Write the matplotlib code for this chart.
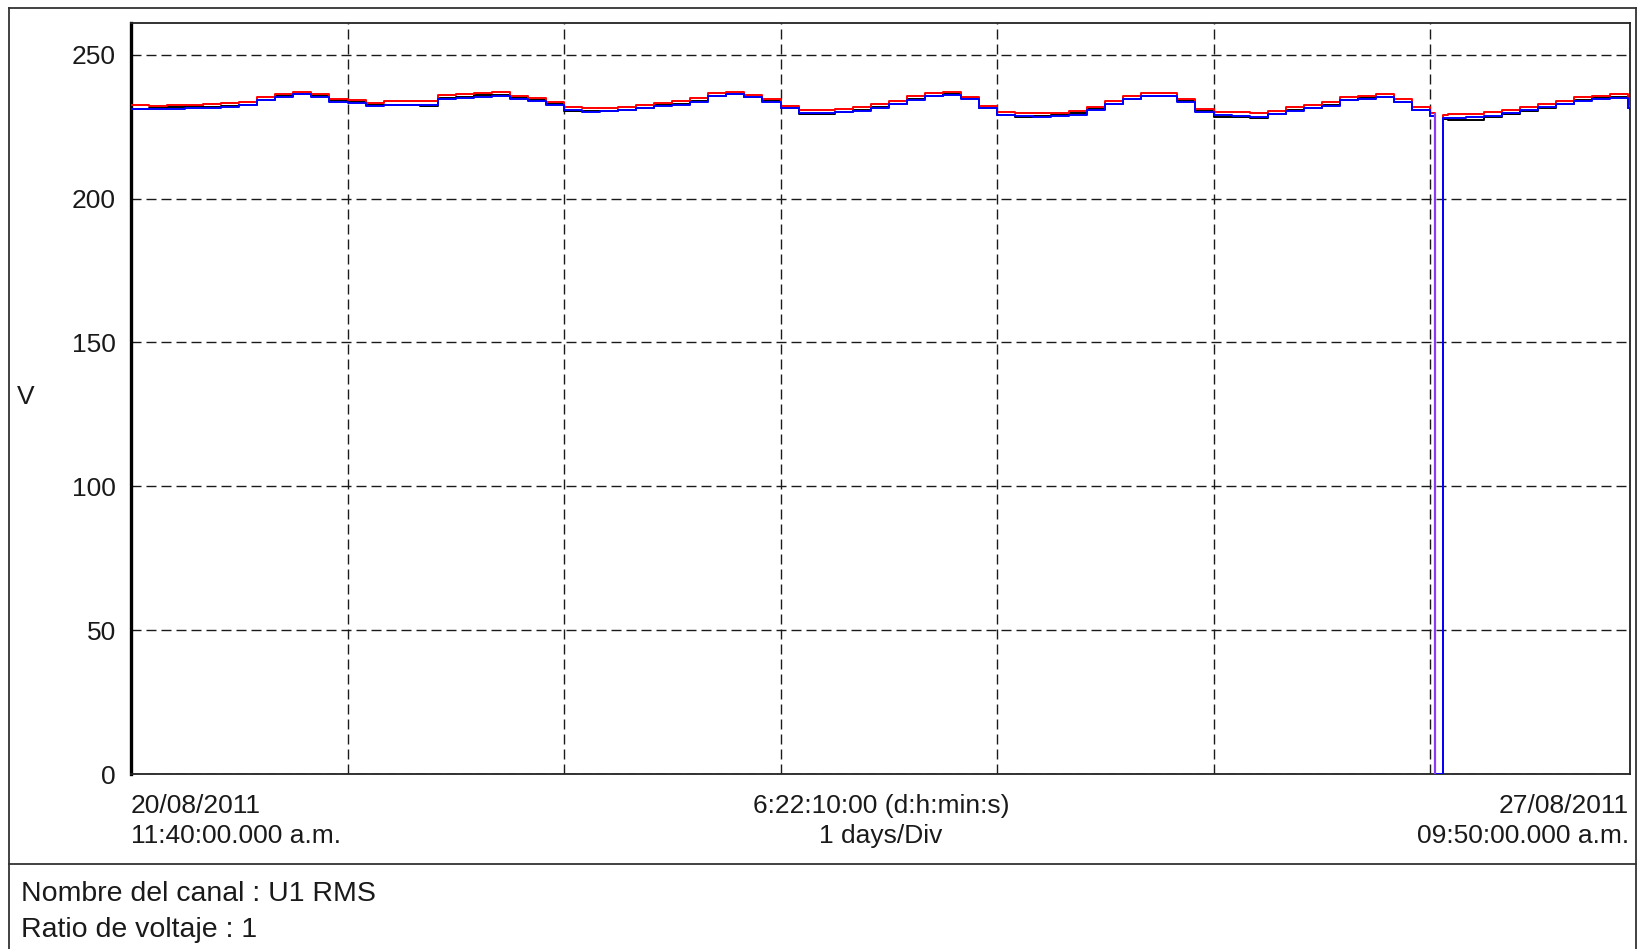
"""U1 RMS voltage trend, one week of logger data (max / avg / min per interval)."""

import matplotlib

matplotlib.use("Agg")
import matplotlib.pyplot as plt
from matplotlib.lines import Line2D

plt.rcParams["font.family"] = ["Liberation Sans", "DejaVu Sans"]

INK = "#1a1a1a"
FRAME = "#333333"

# hours since 20/08/2011 11:40:00, logger record points
T_HOURS = [
    0, 2, 4, 6, 8, 10, 12, 14, 16, 18, 20, 22,
    24, 26, 28, 30, 32, 34, 36, 38, 40, 42, 44, 46,
    48, 50, 52, 54, 56, 58, 60, 62, 64, 66, 68, 70,
    72, 74, 76, 78, 80, 82, 84, 86, 88, 90, 92, 94,
    96, 98, 100, 102, 104, 106, 108, 110, 112, 114, 116, 118,
    120, 122, 124, 126, 128, 130, 132, 134, 136, 138, 140, 142,
    144, 144.6, 145.4, 146, 148, 150, 152, 154, 156, 158, 160, 162,
    164, 166, 166.17,
]

# interval maximum (V)
U_MAX = [
    232.5, 232.0, 232.4, 232.6, 232.7, 233.1, 233.7, 235.4, 236.3, 237.1, 236.3, 234.6,
    234.3, 233.1, 233.8, 233.8, 233.8, 235.9, 236.3, 236.6, 236.9, 235.7, 234.9, 233.4,
    231.7, 231.5, 231.5, 231.7, 232.6, 233.1, 233.8, 234.9, 236.6, 237.1, 236.1, 234.6,
    232.3, 230.8, 230.8, 231.1, 231.7, 232.9, 234.0, 235.7, 236.6, 236.9, 235.4, 232.3,
    229.9, 229.7, 229.7, 229.7, 230.5, 231.9, 234.0, 235.7, 236.6, 236.6, 234.6, 231.1,
    230.2, 229.9, 229.7, 230.5, 231.7, 232.6, 233.4, 235.4, 235.7, 236.3, 234.6, 231.7,
    229.6, 0.0, 229.0, 229.4, 229.4, 229.9, 230.8, 231.7, 232.9, 233.8, 235.2, 235.7,
    236.3, 232.3, 231.9,
]

# interval average (V)
U_AVG = [
    231.2, 231.3, 231.7, 232.0, 231.8, 232.0, 232.6, 234.4, 235.6, 236.3, 235.5, 234.1,
    233.5, 232.4, 232.6, 232.6, 232.1, 234.8, 235.3, 235.9, 236.1, 235.0, 234.2, 232.7,
    230.4, 230.3, 230.4, 230.8, 231.6, 232.5, 233.0, 233.9, 235.6, 236.3, 235.4, 233.8,
    231.5, 229.4, 229.4, 230.0, 230.7, 231.8, 232.9, 234.6, 235.8, 236.2, 234.8, 231.6,
    229.1, 228.4, 228.6, 229.0, 229.7, 231.1, 233.0, 234.6, 235.7, 235.7, 233.8, 230.3,
    228.5, 228.3, 228.1, 229.4, 230.6, 231.6, 232.5, 234.3, 234.9, 235.3, 233.7, 230.9,
    228.8, 0.0, 227.6, 227.3, 227.4, 228.5, 229.3, 230.3, 231.6, 232.9, 234.2, 234.8,
    235.2, 231.5, 231.1,
]

# interval minimum (V)
U_MIN = [
    231.0, 231.0, 231.2, 231.5, 231.3, 231.8, 232.4, 234.2, 235.3, 236.2, 235.2, 233.6,
    233.3, 232.2, 232.4, 232.5, 232.6, 234.6, 235.0, 235.4, 235.6, 234.5, 234.0, 232.5,
    230.9, 230.2, 230.3, 230.6, 231.4, 232.0, 232.6, 233.7, 235.5, 236.2, 235.2, 233.6,
    231.4, 229.8, 229.7, 230.0, 230.5, 231.6, 232.7, 234.4, 235.6, 236.1, 234.6, 231.4,
    229.0, 228.6, 228.5, 228.6, 229.2, 230.7, 232.8, 234.5, 235.5, 235.6, 233.6, 230.1,
    229.0, 228.8, 228.5, 229.3, 230.5, 231.4, 232.2, 234.2, 234.6, 235.2, 233.6, 230.7,
    228.6, 0.0, 228.0, 228.0, 228.2, 228.6, 229.6, 230.6, 231.8, 232.7, 234.0, 234.6,
    235.1, 231.4, 231.0,
]

OUTAGE_AT = 144.6           # supply interruption, hours
DAY_GRID = [24, 48, 72, 96, 120, 144]
V_TICKS = [0, 50, 100, 150, 200, 250]

W, H = 1640, 949


def fx(px):
    return px / W


def fy(py):
    return 1 - py / H


fig = plt.figure(figsize=(W / 100, H / 100), dpi=100)
fig.patch.set_facecolor("white")
ax = fig.add_axes([fx(131), fy(774), fx(1630) - fx(131), fy(23) - fy(774)])

ax.plot(T_HOURS, U_AVG, color="#000000", lw=1.4, drawstyle="steps-post", zorder=3)
ax.plot(T_HOURS, U_MAX, color="#ff0000", lw=1.4, drawstyle="steps-post", zorder=4)
ax.plot(T_HOURS, U_MIN, color="#0000ff", lw=1.4, drawstyle="steps-post", zorder=5)
k = T_HOURS.index(OUTAGE_AT)
ax.vlines(T_HOURS[k], U_MAX[k], U_MAX[k - 1], color="#8a3cf5", lw=1.6, zorder=6)

ax.set_xlim(0, T_HOURS[-1])
ax.set_ylim(0, 261)
ax.set_xticks(DAY_GRID)
ax.set_xticklabels([])
ax.set_yticks(V_TICKS)
ax.set_yticklabels([str(v) for v in V_TICKS])
ax.tick_params(axis="both", length=0)
ax.tick_params(axis="y", labelsize=19, pad=11, labelcolor=INK)
ax.grid(True, color=INK, lw=1.0, linestyle=(0, (7.2, 3.6)), zorder=1)

for side in ("top", "right", "bottom"):
    ax.spines[side].set_linewidth(1.3)
    ax.spines[side].set_color("#222222")
ax.spines["left"].set_linewidth(2.4)
ax.spines["left"].set_color("#000000")

txt = dict(fontsize=19, color=INK, va="center")
fig.text(fx(26), fy(397), "V", ha="center", **txt)
fig.text(fx(131), fy(806), "20/08/2011", ha="left", **txt)
fig.text(fx(131), fy(836), "11:40:00.000 a.m.", ha="left", **txt)
fig.text(fx(881), fy(806), "6:22:10:00 (d:h:min:s)", ha="center", **txt)
fig.text(fx(881), fy(836), "1 days/Div", ha="center", **txt)
fig.text(fx(1629), fy(806), "27/08/2011", ha="right", **txt)
fig.text(fx(1629), fy(836), "09:50:00.000 a.m.", ha="right", **txt)

info = dict(fontsize=20.5, color=INK, va="center", ha="left")
fig.text(fx(21), fy(894), "Nombre del canal : U1 RMS", **info)
fig.text(fx(21), fy(930), "Ratio de voltaje : 1", **info)

# report frame around the chart and the channel info block
frame = dict(transform=fig.transFigure, color=FRAME, lw=1.3)
fig.add_artist(Line2D([fx(9), fx(9)], [fy(8), 0], **frame))
fig.add_artist(Line2D([fx(1636), fx(1636)], [fy(8), 0], **frame))
fig.add_artist(Line2D([fx(9), fx(1636)], [fy(8), fy(8)], **frame))
fig.add_artist(Line2D([fx(9), fx(1636)], [fy(864), fy(864)], **frame))

fig.savefig("out.png", dpi=100, facecolor="white")
